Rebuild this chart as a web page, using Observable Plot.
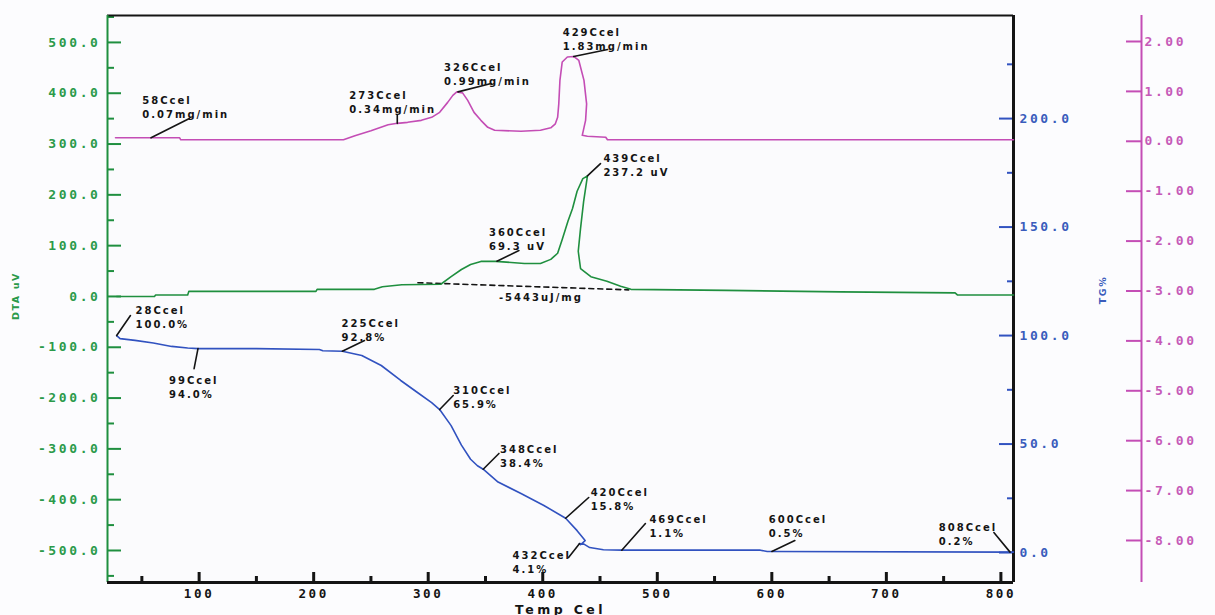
<!DOCTYPE html>
<html><head><meta charset="utf-8">
<script src="https://cdn.jsdelivr.net/npm/d3@7"></script>
<script src="https://cdn.jsdelivr.net/npm/@observablehq/plot@0.6"></script>
<style>
html,body{margin:0;padding:0;background:#fcfcfe;}
#chart svg{display:block;}
g[aria-label$="tick label"] text{letter-spacing:2.6px;}
g[font-size="10"] text{letter-spacing:2px;}
g[font-size="9.5"] text{letter-spacing:1.6px;}
g[font-size="12.5"] text{letter-spacing:3.4px;}
</style></head><body><div id="chart"></div>
<script>
// ---------- data ----------
// DTA (uV) vs temperature (Cel)
const dtaTemp  = [28, 61, 62, 90, 91, 202, 203, 253, 260, 277, 311, 320, 329, 337, 346, 359, 384, 398, 407, 413, 417, 422, 426, 430, 435, 439, 435.7, 433, 431, 433, 442, 456, 468, 477, 560, 660, 760, 762, 811];
const dtaValue = [0, 0, 3, 3, 10, 10, 14, 14, 19, 23, 24, 39, 53, 63, 69, 69, 65, 65, 73, 85, 112, 148, 173, 207, 232, 237, 187, 134, 89, 55, 39, 30, 20, 14, 12, 9, 7, 3, 3];
// TG (%) vs temperature
const tgTemp  = [28, 31, 44, 60, 76, 90, 99, 150, 205, 208, 225, 242, 259, 276, 290, 303, 310, 320, 329, 337, 343, 348, 361, 381, 401, 420, 430, 437, 433, 432, 436, 441, 453, 469, 590, 596, 600, 808, 811];
const tgValue = [100.0, 98.6, 97.8, 96.6, 95.0, 94.3, 94.0, 94.0, 93.6, 93.0, 92.8, 90.8, 86.2, 79.3, 74.0, 69.1, 65.9, 58.5, 49.5, 43.0, 40.0, 38.4, 32.5, 27.2, 21.7, 15.8, 10.1, 5.5, 3.6, 4.1, 3.9, 2.3, 1.3, 1.1, 1.1, 0.5, 0.5, 0.2, 0.2];
// DTG (mg/min) vs temperature
const dtgTemp  = [27, 83, 84, 226, 236, 250, 265, 273, 282, 294, 303, 310, 317, 321.5, 325, 330, 334.5, 340, 346, 352, 358, 381, 398, 407, 411, 413, 414, 415, 417, 421.5, 427, 431.5, 436, 438.3, 437.4, 434.5, 439, 455, 456.5, 811];
const dtgValue = [0.07, 0.07, 0.03, 0.03, 0.11, 0.21, 0.33, 0.36, 0.38, 0.42, 0.48, 0.58, 0.78, 0.92, 0.99, 0.97, 0.82, 0.58, 0.42, 0.28, 0.22, 0.20, 0.22, 0.27, 0.35, 0.48, 0.75, 1.22, 1.59, 1.69, 1.70, 1.62, 1.22, 0.75, 0.42, 0.12, 0.10, 0.08, 0.03, 0.03];
// DTA peak integration baseline
const baseTemp  = [291, 475];
const baseValue = [27, 13];
const enthalpyLabel = "-5443uJ/mg";

// annotations: series, anchor temperature, anchor value, label
const annSeries = ["DTG","DTG","DTG","DTG","DTA","DTA","TG","TG","TG","TG","TG","TG","TG","TG","TG","TG"];
const annTemp   = [58, 273, 326, 427, 360, 439, 28, 99, 225, 310, 348, 420, 432, 469, 600, 808];
const annValue  = [0.07, 0.36, 0.99, 1.70, 69.3, 237.2, 100.0, 94.0, 92.8, 65.9, 38.4, 15.8, 4.1, 1.1, 0.5, 0.2];
const annLabel  = ["58Ccel\n0.07mg/min", "273Ccel\n0.34mg/min", "326Ccel\n0.99mg/min", "429Ccel\n1.83mg/min",
                   "360Ccel\n69.3 uV", "439Ccel\n237.2 uV",
                   "28Ccel\n100.0%", "99Ccel\n94.0%", "225Ccel\n92.8%", "310Ccel\n65.9%", "348Ccel\n38.4%",
                   "420Ccel\n15.8%", "432Ccel\n4.1%", "469Ccel\n1.1%", "600Ccel\n0.5%", "808Ccel\n0.2%"];

// axis ticks and titles
const xMajor = [100, 200, 300, 400, 500, 600, 700, 800];
const xMinor = [50, 150, 250, 350, 450, 550, 650, 750];
const dtaMajor = [-500, -400, -300, -200, -100, 0, 100, 200, 300, 400, 500];
const dtaMinor = [-550, -450, -350, -250, -150, -50, 50, 150, 250, 350, 450, 550];
const tgMajor = [0, 50, 100, 150, 200];
const tgMinor = [25, 75, 125, 175, 225];
const dtgMajor = [-8, -7, -6, -5, -4, -3, -2, -1, 0, 1, 2];
const xTitle = "Temp Cel", dtaTitle = "DTA uV", tgTitle = "TG%";

// ---------- layout / style ----------
const xDomain = [20, 811];
const yDomain = [-563, 553];        // DTA uV (left axis)
const tgDomain = [-13.8, 247.5];    // TG % (right axis)
const dtgDomain = [-8.842, 2.521];  // DTG mg/min (outer right axis)
const tgY = d3.scaleLinear(tgDomain, yDomain);
const dtgY = d3.scaleLinear(dtgDomain, yDomain);

// text offset (dx,dy) and leader (rotate, length) for each annotation, in px
const annLayout = [
  [-8.7,-44.3, 63.3,42.9], [-48,-34.8, 0,8.5], [-14,-31.4, 75.8,34.2], [-11,-31, 78.4,34.7],
  [-8,-35.7, 64,24.5], [16,-24.4, 46.6,18],
  [18.8,-32, 34.6,24.3], [-28.9,25, 191,20.4], [-0.8,-34.6, 64.5,24.6], [13.5,-26, 44,19.5],
  [16.8,-26.7, 45,22.3], [25,-32.7, 48,31], [-66.8,4.9, 218,17.6], [27.6,-37.7, 41.6,35.6],
  [-3,-39, 64.6,25.5], [-71.2,-31.6, -39.6,25.4]
];

const GREEN="#1f8f3f", GREEN_TXT="#2b9a4a", BLUE="#3152c0", BLUE_TXT="#3a5cbc",
      PINK="#c44db5", PINK_TXT="#c65ab8", INK="#141414";
const MONO = "DejaVu Sans Mono";

const dta = dtaTemp.map((t, i) => ({t, v: dtaValue[i]}));
const tg  = tgTemp.map((t, i) => ({t, v: tgValue[i]}));
const dtg = dtgTemp.map((t, i) => ({t, v: dtgValue[i]}));
const base = baseTemp.map((t, i) => ({t, v: baseValue[i]}));
const mapFor = {DTA: v => v, TG: v => tgY(v), DTG: v => dtgY(v)};
const r3 = v => Math.round(v * 1000) / 1000;

const leader = {draw(ctx, l) { ctx.moveTo(0, 0); ctx.lineTo(0, -l); }};

const tickText = {fontFamily: MONO, fontSize: 13, fontWeight: "bold", label: null};

const annMarks = annTemp.flatMap((t, i) => {
  const d = {t, v: mapFor[annSeries[i]](annValue[i]), label: annLabel[i]};
  const [dx, dy, rot, len] = annLayout[i];
  return [
    Plot.vector([d], {x: "t", y: "v", rotate: rot, length: len, anchor: "start", shape: leader, stroke: INK, strokeWidth: 1.6}),
    Plot.text([d], {x: "t", y: "v", text: "label", dx, dy, textAnchor: "start", lineAnchor: "top", lineHeight: 1.45,
      fontSize: 10, fontWeight: "bold", fill: INK, fontFamily: "DejaVu Sans"})
  ];
});

const chart = Plot.plot({
  width: 1215, height: 615,
  marginLeft: 107, marginRight: 202, marginTop: 15, marginBottom: 33,
  x: {domain: xDomain, axis: null},
  y: {domain: yDomain, axis: null},
  style: {background: "transparent", fontFamily: "DejaVu Sans", overflow: "visible"},
  marks: [
    Plot.frame({fill: "#fbfbfd", stroke: "none"}),
    // left DTA axis
    Plot.axisY(dtaMajor, {anchor: "left", tickSize: -14, fill: "none", stroke: GREEN, strokeWidth: 2, label: null}),
    Plot.axisY(dtaMinor, {anchor: "left", tickSize: -7, fill: "none", stroke: GREEN, strokeWidth: 2, label: null}),
    Plot.axisY(dtaMajor, {anchor: "left", tickSize: 0, tickPadding: 7, tickFormat: v => v.toFixed(1), fill: GREEN_TXT, ...tickText}),
    // TG axis on the right edge of the frame
    Plot.axisY(tgMajor.map(v => tgY(v)), {anchor: "right", tickSize: -15, fill: "none", stroke: BLUE, strokeWidth: 2, label: null}),
    Plot.axisY(tgMinor.map(v => tgY(v)), {anchor: "right", tickSize: -7, fill: "none", stroke: BLUE, strokeWidth: 2, label: null}),
    Plot.axisY(tgMajor.map(v => tgY(v)), {anchor: "right", tickSize: 0, tickPadding: 6, tickFormat: v => r3(tgY.invert(v)).toFixed(1), fill: BLUE_TXT, ...tickText}),
    // DTG axis further right
    Plot.ruleX([xDomain[1]], {dx: 128, stroke: PINK, strokeWidth: 2}),
    Plot.axisY(dtgMajor.map(v => dtgY(v)), {anchor: "right", dx: 128, tickSize: -16, fill: "none", stroke: PINK, strokeWidth: 2, label: null}),
    Plot.axisY(dtgMajor.map(v => dtgY(v)), {anchor: "right", dx: 128, tickSize: 0, tickPadding: 3, tickFormat: v => r3(dtgY.invert(v)).toFixed(2), fill: PINK_TXT, ...tickText}),
    // x axis
    Plot.axisX(xMajor, {anchor: "bottom", tickSize: -10, fill: "none", stroke: INK, strokeWidth: 3, label: null}),
    Plot.axisX(xMinor, {anchor: "bottom", tickSize: -6, fill: "none", stroke: INK, strokeWidth: 3, label: null}),
    Plot.axisX(xMajor, {anchor: "bottom", tickSize: 0, tickPadding: 7, fill: INK, ...tickText, fontSize: 12.6}),
    // frame edges
    Plot.ruleY([yDomain[1]], {stroke: INK, strokeWidth: 2}),
    Plot.ruleX([xDomain[1]], {stroke: INK, strokeWidth: 3}),
    Plot.ruleX([xDomain[0]], {stroke: GREEN, strokeWidth: 2}),
    Plot.ruleY([yDomain[0]], {stroke: INK, strokeWidth: 3}),
    // curves
    Plot.line(base, {x: "t", y: "v", stroke: INK, strokeWidth: 1.6, strokeDasharray: "5,4"}),
    Plot.line(dtg, {x: "t", y: d => dtgY(d.v), stroke: PINK, strokeWidth: 1.6}),
    Plot.line(dta, {x: "t", y: "v", stroke: GREEN, strokeWidth: 1.6}),
    Plot.line(tg, {x: "t", y: d => tgY(d.v), stroke: BLUE, strokeWidth: 1.6}),
    Plot.text([base[0]], {x: "t", y: "v", text: () => enthalpyLabel, dx: 81, dy: 11, textAnchor: "start", lineAnchor: "top",
      fontSize: 10, fontWeight: "bold", fill: INK}),
    ...annMarks,
    // axis titles
    Plot.text([dtaTitle], {frameAnchor: "left", textAnchor: "middle", dx: -92, dy: -3, rotate: -90, fill: GREEN_TXT, fontSize: 9.5, fontWeight: "bold"}),
    Plot.text([tgTitle], {frameAnchor: "right", textAnchor: "middle", dx: 89, dy: -9, rotate: -90, fill: BLUE_TXT, fontSize: 9.5, fontWeight: "bold"}),
    Plot.text([xTitle], {frameAnchor: "bottom", textAnchor: "middle", dy: 27.5, lineAnchor: "middle", fill: INK, fontSize: 12.5, fontWeight: "bold"})
  ]
});
document.getElementById("chart").appendChild(chart);
</script></body></html>
